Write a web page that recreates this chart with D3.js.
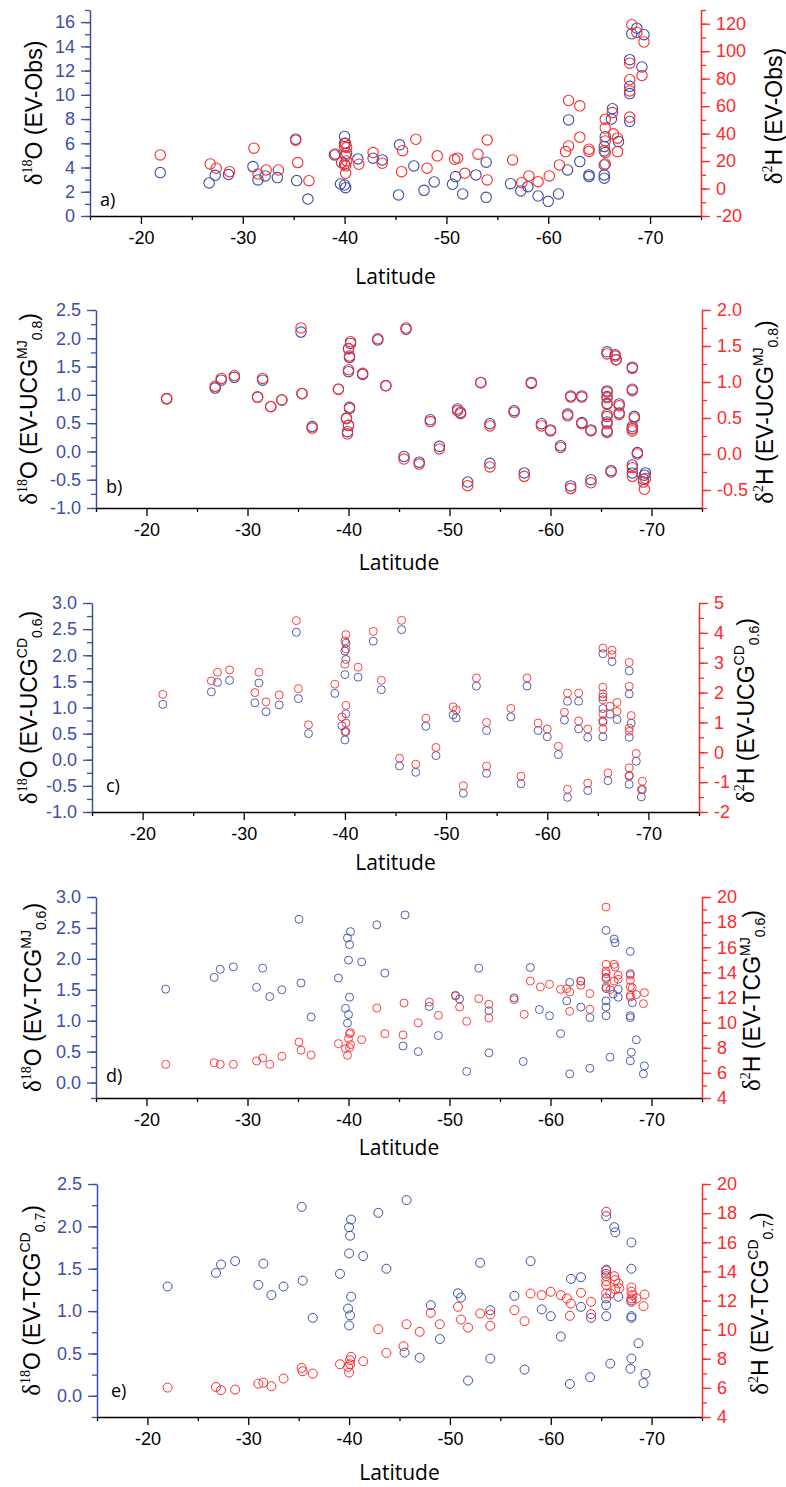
<!DOCTYPE html>
<html>
<head>
<meta charset="utf-8">
<script src="https://cdn.jsdelivr.net/npm/d3@7"></script>
<style>
  body { margin: 0; background: #fff; }
  svg { display: block; }
  .tick text { font-family: 'Liberation Sans', Arial, sans-serif; font-size: 18px; }
</style>
</head>
<body>
<div id="chart"></div>
<script>
// latitude tick labels (shared by all panels)
const latTicks = [-20, -30, -40, -50, -60, -70];

// panel a: EV-Obs  [latitude, value]
const aO = [[-21.9,3.58],[-26.7,2.73],[-27.3,3.36],[-28.6,3.42],[-31.0,4.08],[-31.5,2.98],[-32.2,3.31],[-33.4,3.17],[-35.2,6.34],[-35.3,2.92],[-36.4,1.40],[-39.0,5.04],[-39.6,2.64],[-40.0,6.56],[-40.0,6.0],[-40.1,2.34],[-40.0,2.56],[-40.2,5.18],[-40.0,4.27],[-41.3,4.71],[-42.8,4.77],[-43.7,4.63],[-45.4,5.87],[-45.3,1.74],[-46.8,4.13],[-47.8,2.12],[-48.8,2.81],[-50.6,2.62],[-50.9,3.25],[-51.6,1.82],[-52.9,3.39],[-53.9,4.44],[-53.9,1.54],[-56.3,2.67],[-57.3,2.07],[-58.0,2.42],[-59.0,1.65],[-60.0,1.21],[-61.0,1.82],[-61.9,3.80],[-62.0,7.93],[-63.1,4.49],[-64.0,3.39],[-64.0,3.25],[-65.5,3.12],[-65.5,3.39],[-65.5,4.21],[-65.5,5.73],[-65.6,6.55],[-65.5,5.37],[-66.3,8.85],[-66.2,8.0],[-66.9,6.14],[-68.0,7.8],[-68.0,10.1],[-68.0,10.7],[-68.0,12.9],[-68.2,15.04],[-68.7,15.5],[-69.4,14.96],[-69.2,12.3]];
const aH = [[-21.9,24.5],[-26.8,17.9],[-27.4,14.8],[-28.7,12.3],[-31.1,29.4],[-31.5,10.6],[-32.3,13.5],[-33.5,13.5],[-35.2,35.2],[-35.4,18.9],[-36.5,5.7],[-39.1,25.2],[-39.7,18.9],[-40.0,30.5],[-40.1,33],[-40.1,11.1],[-40.1,23.8],[-40.1,16.5],[-40.2,20.1],[-40.2,30.0],[-41.4,17.7],[-42.8,26.2],[-43.7,18.4],[-45.6,12.3],[-45.7,27.6],[-47.0,35.9],[-48.1,14.8],[-49.1,23.8],[-50.8,21.3],[-51.1,22.1],[-51.8,11.1],[-53.1,25.0],[-54.0,35.4],[-54.0,6.3],[-56.5,20.8],[-57.4,4.3],[-58.1,9.2],[-59.0,5.0],[-60.1,9.2],[-61.1,17.2],[-61.7,26.9],[-62.0,31.0],[-62.0,64.1],[-63.1,60.2],[-63.1,37.4],[-64.0,28.6],[-64.0,27],[-65.6,17.9],[-65.6,26.2],[-65.6,34.7],[-65.6,44],[-65.6,50.5],[-66.3,55.3],[-66.4,39.8],[-66.8,36.7],[-66.8,26.9],[-68.0,52.0],[-68.0,71.1],[-68.0,79.2],[-68.0,91.3],[-68.2,119.3],[-68.7,113.7],[-69.4,106.7],[-69.2,82.3]];
const aOTicks = [0, 2, 4, 6, 8, 10, 12, 14, 16];
const aHTicks = [-20, 0, 20, 40, 60, 80, 100, 120];

// panel b: EV-UCG MJ 0.8
const bO = [[-22.0,0.93],[-26.8,1.12],[-27.4,1.26],[-28.7,1.31],[-31.0,0.96],[-31.5,1.26],[-32.3,0.79],[-33.4,0.91],[-35.3,2.11],[-35.4,1.02],[-36.4,0.44],[-39.0,1.10],[-39.8,0.59],[-39.9,0.35],[-40.0,0.46],[-40.1,0.78],[-40.0,1.41],[-40.1,1.66],[-40.0,1.82],[-40.2,1.91],[-41.4,1.36],[-42.9,1.97],[-43.7,1.16],[-45.5,-0.09],[-45.7,2.16],[-47.0,-0.19],[-48.1,0.56],[-49.0,0.09],[-50.8,0.75],[-51.1,0.69],[-51.8,-0.54],[-53.1,1.22],[-54.0,0.49],[-54.0,-0.21],[-56.4,0.72],[-57.4,-0.38],[-58.1,1.22],[-59.1,0.49],[-60.0,0.38],[-61.0,0.10],[-61.7,0.66],[-62.0,0.98],[-62.0,-0.61],[-63.1,0.98],[-63.1,0.51],[-64.0,0.38],[-64.0,-0.50],[-65.6,1.76],[-65.6,1.07],[-65.6,0.97],[-65.6,0.85],[-65.6,0.65],[-65.6,0.52],[-65.6,0.36],[-66.0,-0.34],[-66.4,1.71],[-66.5,1.62],[-66.8,0.84],[-66.8,0.68],[-68.1,1.49],[-68.1,1.10],[-68.1,0.44],[-68.1,0.40],[-68.1,-0.24],[-68.1,-0.38],[-68.3,0.62],[-68.6,-0.02],[-69.2,-0.49],[-69.3,-0.42],[-69.4,-0.38]];
const bH = [[-22.0,0.77],[-26.8,0.94],[-27.4,1.05],[-28.7,1.09],[-31.0,0.79],[-31.5,1.05],[-32.3,0.66],[-33.4,0.75],[-35.3,1.75],[-35.4,0.84],[-36.4,0.36],[-39.0,0.90],[-39.8,0.49],[-39.9,0.28],[-40.0,0.40],[-40.1,0.63],[-40.0,1.17],[-40.1,1.36],[-40.0,1.46],[-40.2,1.56],[-41.4,1.12],[-42.9,1.60],[-43.7,0.95],[-45.5,-0.07],[-45.7,1.75],[-47.0,-0.14],[-48.1,0.45],[-49.0,0.07],[-50.8,0.60],[-51.1,0.56],[-51.8,-0.44],[-53.1,0.99],[-54.0,0.39],[-54.0,-0.18],[-56.4,0.58],[-57.4,-0.31],[-58.1,0.98],[-59.1,0.39],[-60.0,0.32],[-61.0,0.09],[-61.7,0.53],[-62.0,0.79],[-62.0,-0.48],[-63.1,0.79],[-63.1,0.42],[-64.0,0.32],[-64.0,-0.40],[-65.6,1.39],[-65.6,0.86],[-65.6,0.78],[-65.6,0.69],[-65.6,0.52],[-65.6,0.42],[-65.6,0.30],[-66.0,-0.25],[-66.4,1.36],[-66.5,1.31],[-66.8,0.67],[-66.8,0.55],[-68.1,1.19],[-68.1,0.88],[-68.1,0.35],[-68.1,0.32],[-68.1,-0.19],[-68.1,-0.31],[-68.3,0.50],[-68.6,0.0],[-69.2,-0.39],[-69.3,-0.49],[-69.4,-0.34]];
const bOTicks = [-1.0, -0.5, 0.0, 0.5, 1.0, 1.5, 2.0, 2.5];
const bHTicks = [-0.5, 0.0, 0.5, 1.0, 1.5, 2.0];

// panel c: EV-UCG CD 0.6
const cO = [[-22.0,1.06],[-26.8,1.30],[-27.4,1.48],[-28.6,1.52],[-31.1,1.09],[-31.5,1.47],[-32.2,0.92],[-33.5,1.05],[-35.2,2.44],[-35.4,1.17],[-36.4,0.50],[-39.0,1.27],[-39.7,0.65],[-40.0,0.38],[-40.0,1.63],[-40.0,2.08],[-40.1,0.54],[-40.1,1.92],[-40.1,0.88],[-40.1,2.23],[-41.3,1.58],[-42.8,2.27],[-43.6,1.34],[-45.4,-0.12],[-45.6,2.49],[-47.0,-0.24],[-48.0,0.64],[-49.0,0.08],[-50.7,0.86],[-51.0,0.80],[-51.7,-0.64],[-53.0,1.41],[-54.0,0.56],[-54.0,-0.26],[-56.4,0.82],[-57.4,-0.46],[-58.0,1.41],[-59.1,0.56],[-60.0,0.44],[-61.1,0.10],[-61.7,0.76],[-62.0,1.12],[-62.0,-0.72],[-63.1,1.12],[-63.1,0.59],[-64.0,0.43],[-64.0,-0.59],[-65.5,2.03],[-65.5,1.20],[-65.5,0.98],[-65.5,0.72],[-65.5,0.44],[-66.0,-0.40],[-66.4,1.88],[-66.2,0.87],[-66.9,0.77],[-68.1,1.70],[-68.1,1.26],[-68.1,0.43],[-68.1,-0.30],[-68.1,-0.47],[-68.3,0.70],[-68.8,-0.03],[-69.4,-0.57],[-69.3,-0.71]];
const cH = [[-22.0,1.94],[-26.8,2.39],[-27.4,2.68],[-28.6,2.76],[-31.1,2.0],[-31.5,2.68],[-32.2,1.69],[-33.5,1.92],[-35.2,4.41],[-35.4,2.13],[-36.4,0.92],[-39.0,2.28],[-39.7,1.18],[-40.0,0.69],[-40.0,2.95],[-40.0,3.73],[-40.1,0.98],[-40.1,3.46],[-40.1,1.57],[-40.1,3.94],[-41.3,2.85],[-42.8,4.05],[-43.6,2.41],[-45.4,-0.2],[-45.6,4.42],[-47.0,-0.40],[-48.0,1.14],[-49.0,0.16],[-50.7,1.52],[-51.0,1.42],[-51.7,-1.12],[-53.0,2.49],[-54.0,1.0],[-54.0,-0.46],[-56.4,1.47],[-57.4,-0.8],[-58.0,2.49],[-59.1,0.98],[-60.0,0.78],[-61.1,0.2],[-61.7,1.34],[-62.0,1.98],[-62.0,-1.24],[-63.1,1.98],[-63.1,1.05],[-64.0,0.78],[-64.0,-1.03],[-65.5,3.49],[-65.5,2.18],[-65.5,1.96],[-65.5,1.76],[-65.5,1.29],[-65.5,1.06],[-65.5,0.78],[-66.0,-0.69],[-66.4,3.42],[-66.4,3.27],[-66.2,1.54],[-66.9,1.67],[-66.9,1.37],[-68.1,3.01],[-68.1,2.21],[-68.1,0.81],[-68.1,0.70],[-68.1,-0.52],[-68.1,-0.80],[-68.3,1.23],[-68.8,-0.04],[-69.4,-0.97],[-69.3,-1.25]];
const cOTicks = [-1.0, -0.5, 0.0, 0.5, 1.0, 1.5, 2.0, 2.5, 3.0];
const cHTicks = [-2, -1, 0, 1, 2, 3, 4, 5];

// panel d: EV-TCG MJ 0.6
const dO = [[-21.9,1.51],[-26.7,1.70],[-27.3,1.83],[-28.6,1.87],[-30.9,1.54],[-31.5,1.85],[-32.2,1.39],[-33.4,1.50],[-35.1,2.64],[-35.3,1.61],[-36.3,1.06],[-39.0,1.69],[-39.7,1.20],[-39.9,0.96],[-40.0,1.10],[-40.1,1.38],[-40.0,1.98],[-40.1,2.23],[-39.9,2.34],[-40.2,2.44],[-41.3,1.95],[-42.8,2.55],[-43.6,1.77],[-45.4,0.59],[-45.6,2.71],[-46.9,0.50],[-48.0,1.23],[-48.9,0.76],[-50.6,1.41],[-51.0,1.35],[-51.7,0.18],[-52.9,1.85],[-53.9,1.16],[-53.9,0.48],[-56.4,1.37],[-57.3,0.34],[-58.0,1.86],[-58.9,1.18],[-59.9,1.08],[-61.0,0.79],[-61.6,1.32],[-61.9,1.62],[-61.9,0.14],[-63.0,1.22],[-63.0,1.64],[-63.9,1.05],[-63.9,0.23],[-65.5,2.46],[-65.5,1.70],[-65.5,1.52],[-65.5,1.32],[-65.5,1.22],[-65.5,1.08],[-65.9,0.41],[-66.3,2.32],[-66.4,2.26],[-66.2,1.43],[-66.7,1.51],[-66.7,1.38],[-67.9,2.12],[-67.9,1.76],[-67.9,1.08],[-67.9,1.05],[-68.0,0.49],[-67.9,0.35],[-68.1,1.29],[-68.5,0.69],[-69.3,0.27],[-69.2,0.14]];
const dH = [[-21.9,6.68],[-26.7,6.81],[-27.3,6.68],[-28.6,6.68],[-30.9,6.95],[-31.5,7.18],[-32.2,6.68],[-33.4,7.32],[-35.1,8.46],[-35.3,7.80],[-36.3,7.42],[-39.0,8.33],[-39.7,7.93],[-39.9,7.40],[-40.1,8.01],[-40.0,8.72],[-40.1,9.12],[-40.2,8.25],[-40.2,9.2],[-41.3,8.64],[-42.8,11.16],[-43.6,9.12],[-45.4,9.02],[-45.5,11.56],[-46.9,9.97],[-48.0,11.64],[-48.9,10.58],[-50.6,12.12],[-51.0,11.24],[-51.7,10.10],[-52.9,11.91],[-53.9,11.46],[-53.9,10.37],[-56.4,11.83],[-57.4,10.66],[-58.0,13.31],[-59.0,12.84],[-59.9,13.05],[-61.0,12.65],[-61.6,12.70],[-61.9,12.44],[-61.9,10.90],[-63.0,13.31],[-63.0,12.97],[-63.9,12.31],[-63.9,11.06],[-65.5,19.2],[-65.5,14.64],[-65.5,14.08],[-65.5,13.90],[-65.5,13.5],[-65.5,12.84],[-65.9,12.62],[-66.3,14.64],[-66.4,14.43],[-66.3,13.31],[-66.7,13.77],[-66.7,13.45],[-67.9,13.77],[-67.9,13.37],[-67.9,12.84],[-67.9,12.17],[-67.9,12.04],[-68.1,12.78],[-68.5,12.23],[-69.2,11.51],[-69.3,12.39]];
const dOTicks = [0.0, 0.5, 1.0, 1.5, 2.0, 2.5, 3.0];
const dHTicks = [4, 6, 8, 10, 12, 14, 16, 18, 20];

// panel e: EV-TCG CD 0.7
const eO = [[-22.0,1.29],[-26.8,1.45],[-27.3,1.55],[-28.7,1.59],[-31.0,1.31],[-31.5,1.56],[-32.3,1.19],[-33.5,1.29],[-35.3,2.23],[-35.4,1.36],[-36.4,0.92],[-39.1,1.44],[-39.9,1.03],[-40.0,0.83],[-40.1,0.95],[-40.2,1.17],[-40.0,1.68],[-40.1,1.89],[-40.0,1.99],[-40.2,2.08],[-41.4,1.65],[-42.9,2.16],[-43.7,1.50],[-45.5,0.51],[-45.7,2.31],[-47.0,0.45],[-48.1,1.07],[-49.0,0.67],[-50.8,1.21],[-51.1,1.16],[-51.8,0.18],[-53.0,1.57],[-54.0,1.01],[-54.0,0.44],[-56.4,1.18],[-57.4,0.31],[-58.0,1.59],[-59.1,1.02],[-60.0,0.94],[-61.0,0.70],[-62.0,1.38],[-61.9,0.14],[-63.0,1.40],[-63.0,1.05],[-64.0,0.92],[-63.9,0.22],[-65.5,2.12],[-65.5,1.49],[-65.5,1.44],[-65.5,1.15],[-65.5,1.07],[-65.5,0.94],[-65.9,0.38],[-66.3,1.99],[-66.4,1.93],[-66.7,1.17],[-68.0,1.81],[-68.0,1.50],[-68.0,1.11],[-68.0,0.94],[-68.0,0.92],[-68.0,0.44],[-67.9,0.32],[-68.7,0.62],[-69.4,0.26],[-69.2,0.15]];
const eH = [[-22.0,6.02],[-26.8,6.06],[-27.3,5.84],[-28.7,5.88],[-31.0,6.29],[-31.5,6.36],[-32.3,6.11],[-33.5,6.64],[-35.3,7.37],[-35.4,7.14],[-36.4,6.98],[-39.1,7.62],[-39.9,7.44],[-40.0,7.05],[-40.1,7.62],[-40.2,8.13],[-40.1,7.9],[-41.4,7.83],[-42.9,10.03],[-43.7,8.40],[-45.4,8.86],[-45.7,10.37],[-47.0,9.85],[-48.1,11.15],[-49.0,10.37],[-50.8,11.57],[-51.1,10.69],[-51.8,10.14],[-53.0,11.11],[-54.0,11.04],[-54.0,10.26],[-56.4,11.34],[-57.4,10.58],[-58.0,12.48],[-59.1,12.37],[-60.0,12.60],[-61.0,12.37],[-61.6,12.14],[-62.0,11.79],[-61.9,10.95],[-63.0,12.53],[-64.0,11.91],[-64.0,11.06],[-65.5,18.10],[-65.5,14.04],[-65.5,13.67],[-65.5,13.33],[-65.5,13.06],[-65.5,12.48],[-65.9,12.48],[-66.3,13.67],[-66.4,13.40],[-66.4,12.76],[-66.7,13.17],[-66.8,12.83],[-68.0,12.89],[-68.0,12.60],[-68.0,12.14],[-68.0,12.02],[-68.1,12.37],[-68.5,12.14],[-69.2,11.61],[-69.3,12.41]];
const eOTicks = [0.0, 0.5, 1.0, 1.5, 2.0, 2.5];
const eHTicks = [4, 6, 8, 10, 12, 14, 16, 18, 20];

const BLUE = '#3d4ea8';
const RED = '#ff2a2a';
const SANS = "'Liberation Sans', Arial, sans-serif";
const SERIF = "'Liberation Serif', 'Times New Roman', serif";
const LABEL_FONT = "'Open Sans', sans-serif";

const fmt1 = (d) => d.toFixed(1);
const fmt0 = (d) => String(d);

const panels = [
  { name: 'a)', O: aO, H: aH, oTicks: aOTicks, hTicks: aHTicks, oStep: 1, hStep: 10,
    oDom: [0, 17], hDom: [-20, 130], oFmt: fmt0, hFmt: fmt0,
    left: 90, right: 701, top: 10, bottom: 216, r: 5.2, sw: 1.1,
    sup: '', sub: '', model: 'Obs', lx: 42, rx: 782, titleY: 284, tagX: 100, tagY: 206 },
  { name: 'b)', O: bO, H: bH, oTicks: bOTicks, hTicks: bHTicks, oStep: 0.25, hStep: 0.25,
    oDom: [-1, 2.5], hDom: [-0.75, 2.0], oFmt: fmt1, hFmt: fmt1,
    left: 96, right: 702, top: 310, bottom: 508, r: 5.2, sw: 1.1,
    sup: 'MJ', sub: '0.8', model: 'UCG', lx: 37, rx: 773, titleY: 570, tagX: 106, tagY: 493 },
  { name: 'c)', O: cO, H: cH, oTicks: cOTicks, hTicks: cHTicks, oStep: 0.25, hStep: 0.5,
    oDom: [-1, 3], hDom: [-2, 5], oFmt: fmt1, hFmt: fmt0,
    left: 92, right: 699, top: 603, bottom: 812, r: 4, sw: 0.9,
    sup: 'CD', sub: '0.6', model: 'UCG', lx: 37, rx: 754, titleY: 870, tagX: 106, tagY: 792 },
  { name: 'd)', O: dO, H: dH, oTicks: dOTicks, hTicks: dHTicks, oStep: 0.25, hStep: 1,
    oDom: [-0.25, 3], hDom: [4, 20], oFmt: fmt1, hFmt: fmt0,
    left: 96, right: 702, top: 897, bottom: 1098, r: 4, sw: 0.9,
    sup: 'MJ', sub: '0.6', model: 'TCG', lx: 41, rx: 760, titleY: 1155, tagX: 106, tagY: 1082 },
  { name: 'e)', O: eO, H: eH, oTicks: eOTicks, hTicks: eHTicks, oStep: 0.25, hStep: 1,
    oDom: [-0.25, 2.5], hDom: [4, 20], oFmt: fmt1, hFmt: fmt0,
    left: 97, right: 702, top: 1184, bottom: 1417, r: 4.5, sw: 1,
    sup: 'CD', sub: '0.7', model: 'TCG', lx: 40, rx: 768, titleY: 1480, tagX: 111, tagY: 1397 }
];

const svg = d3.select('#chart')
  .append('svg')
  .attr('width', 786)
  .attr('height', 1487)
  .style('background', '#fff');

// rotated axis title built from pieces (main / superscript / subscript)
function yTitle(g, x, y, parts) {
  const t = g.append('text')
    .attr('transform', 'translate(' + x + ',' + y + ') rotate(-90)')
    .attr('text-anchor', 'middle')
    .attr('fill', '#000');
  let shift = 0;
  parts.forEach((p) => {
    t.append('tspan')
      .attr('font-family', p.f || SANS)
      .attr('font-size', p.s || 23)
      .attr('dy', (p.shift || 0) - shift)
      .text(p.t);
    shift = p.shift || 0;
  });
}

function titleParts(iso, nucl, p) {
  const parts = [
    { t: 'δ', f: SERIF, s: 25 },
    { t: iso, f: SERIF, s: 14, shift: -10 },
    { t: nucl + ' (EV-' + p.model, s: 23 }
  ];
  if (p.sup) {
    parts.push({ t: p.sup, s: 14, shift: -10 });
    parts.push({ t: p.sub, s: 14, shift: 5 });
  }
  parts.push({ t: ')', s: 23 });
  return parts;
}

function styleAxis(sel, color) {
  sel.select('.domain').attr('stroke', color).attr('stroke-width', 1.5);
  sel.selectAll('.tick line').attr('stroke', color).attr('stroke-width', 1.3);
  sel.selectAll('.tick text').attr('fill', color);
}

panels.forEach((p) => {
  const g = svg.append('g');
  const x = d3.scaleLinear().domain([-15, -75]).range([p.left, p.right]);
  const yO = d3.scaleLinear().domain(p.oDom).range([p.bottom, p.top]);
  const yH = d3.scaleLinear().domain(p.hDom).range([p.bottom, p.top]);

  // x axis: minor then major
  g.append('g')
    .attr('transform', 'translate(0,' + p.bottom + ')')
    .call(d3.axisBottom(x).tickValues(d3.range(-15, -76, -10)).tickSize(4).tickSizeOuter(0).tickFormat(''))
    .call((s) => s.select('.domain').remove())
    .call((s) => styleAxis(s, '#000'));
  g.append('g')
    .attr('transform', 'translate(0,' + p.bottom + ')')
    .call(d3.axisBottom(x).tickValues(latTicks).tickSize(8).tickSizeOuter(0).tickPadding(7).tickFormat(fmt0))
    .call((s) => styleAxis(s, '#000'));

  g.append('text')
    .attr('x', (p.left + p.right) / 2)
    .attr('y', p.titleY)
    .attr('text-anchor', 'middle')
    .attr('font-family', LABEL_FONT)
    .attr('font-size', 21)
    .text('Latitude');

  // left axis (δ18O)
  const oMinor = d3.range(p.oDom[0], p.oDom[1] + 1e-9, p.oStep);
  g.append('g')
    .attr('transform', 'translate(' + p.left + ',0)')
    .call(d3.axisLeft(yO).tickValues(oMinor).tickSize(5).tickSizeOuter(0).tickFormat(''))
    .call((s) => styleAxis(s, BLUE));
  g.append('g')
    .attr('transform', 'translate(' + p.left + ',0)')
    .call(d3.axisLeft(yO).tickValues(p.oTicks).tickSize(9).tickSizeOuter(0).tickPadding(6).tickFormat(p.oFmt))
    .call((s) => s.select('.domain').remove())
    .call((s) => styleAxis(s, BLUE));

  // right axis (δ2H)
  const hMinor = d3.range(p.hDom[0], p.hDom[1] + 1e-9, p.hStep);
  g.append('g')
    .attr('transform', 'translate(' + p.right + ',0)')
    .call(d3.axisRight(yH).tickValues(hMinor).tickSize(5).tickSizeOuter(0).tickFormat(''))
    .call((s) => styleAxis(s, RED));
  g.append('g')
    .attr('transform', 'translate(' + p.right + ',0)')
    .call(d3.axisRight(yH).tickValues(p.hTicks).tickSize(9).tickSizeOuter(0).tickPadding(6).tickFormat(p.hFmt))
    .call((s) => s.select('.domain').remove())
    .call((s) => styleAxis(s, RED));

  const midY = (p.top + p.bottom) / 2;
  yTitle(g, p.lx, midY, titleParts('18', 'O', p));
  yTitle(g, p.rx, midY + 3, titleParts('2', 'H', p));

  // panel tag
  g.append('text')
    .attr('x', p.tagX)
    .attr('y', p.tagY)
    .attr('font-family', LABEL_FONT)
    .attr('font-size', 18)
    .text(p.name);

  // marks: blue δ18O first, red δ2H on top
  g.append('g')
    .selectAll('circle')
    .data(p.O)
    .join('circle')
    .attr('cx', (d) => x(d[0]))
    .attr('cy', (d) => yO(d[1]))
    .attr('r', p.r)
    .attr('fill', 'none')
    .attr('stroke', BLUE)
    .attr('stroke-width', p.sw);

  g.append('g')
    .selectAll('circle')
    .data(p.H)
    .join('circle')
    .attr('cx', (d) => x(d[0]))
    .attr('cy', (d) => yH(d[1]))
    .attr('r', p.r)
    .attr('fill', 'none')
    .attr('stroke', RED)
    .attr('stroke-width', p.sw);
});
</script>
</body>
</html>
